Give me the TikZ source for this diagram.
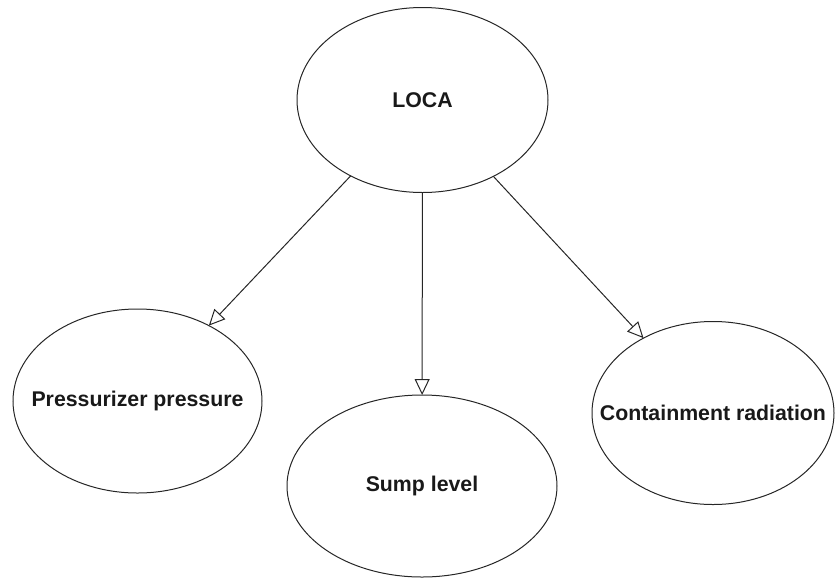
\documentclass[tikz,border=0pt]{standalone}
\usepackage{fontspec}
\setmainfont{Liberation Sans}
\usetikzlibrary{shapes.geometric,arrows.meta}
\begin{document}
\begin{tikzpicture}[x=1pt,y=-1pt,
  evt/.style={draw=black!85, line width=1pt, ellipse, inner sep=0pt, outer sep=0pt,
    font=\fontsize{21.3}{24}\selectfont\bfseries, text=black!90},
  link/.style={draw=black!85, line width=1pt,
    -{Triangle[open, length=16pt, width=15pt, line width=1pt]}}]
  \useasboundingbox (0,0) rectangle (835,579);
  \node[evt, minimum width=251pt, minimum height=185pt] (loca) at (422.5,100) {\makebox[0pt]{LOCA}};
  \node[evt, minimum width=249pt, minimum height=184pt] (pp) at (137.5,401) {\makebox[0pt]{Pressurizer pressure}};
  \node[evt, minimum width=270pt, minimum height=182pt] (sl) at (422,486) {\makebox[0pt]{Sump level}};
  \node[evt, minimum width=242pt, minimum height=183pt] (cr) at (713,413) {\makebox[0pt]{Containment radiation}};
  \draw[link] (loca) -- (pp);
  \draw[link] (loca) -- (sl);
  \draw[link] (loca) -- (cr);
\end{tikzpicture}
\end{document}
